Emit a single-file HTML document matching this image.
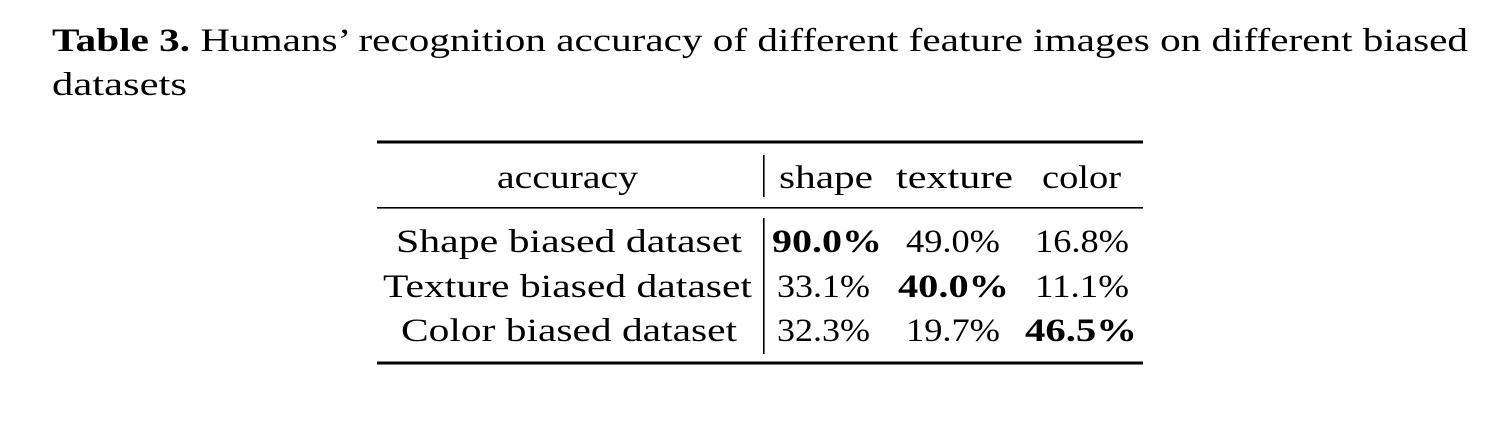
<!DOCTYPE html>
<html>
<head>
<meta charset="utf-8">
<style>
  html,body{margin:0;padding:0;background:#fff;}
  svg{display:block;}
  text{font-family:"Liberation Serif","DejaVu Serif",serif;fill:#000;}
  .b{font-weight:bold;}
</style>
</head>
<body>
<svg width="1486" height="428" viewBox="0 0 1486 428">
  <g>
    <text x="52" y="51" font-size="33" textLength="1416" lengthAdjust="spacingAndGlyphs"><tspan class="b">Table 3.</tspan> Humans’ recognition accuracy of different feature images on different biased</text>
    <text x="52" y="95" font-size="33" textLength="135" lengthAdjust="spacingAndGlyphs">datasets</text>
  </g>
  <g>
    <rect x="377" y="140.5" width="766" height="3" fill="#000"/>
    <rect x="377" y="207" width="766" height="1.6" fill="#000"/>
    <rect x="377" y="361.5" width="766" height="3" fill="#000"/>
    <rect x="763" y="155" width="1.6" height="42" fill="#000"/>
    <rect x="763" y="218" width="1.6" height="136" fill="#000"/>
  </g>
  <g font-size="33">
    <text x="497" y="188" textLength="141" lengthAdjust="spacingAndGlyphs">accuracy</text>
    <text x="779" y="188" textLength="94" lengthAdjust="spacingAndGlyphs">shape</text>
    <text x="896" y="188" textLength="117" lengthAdjust="spacingAndGlyphs">texture</text>
    <text x="1042" y="188" textLength="79" lengthAdjust="spacingAndGlyphs">color</text>
  </g>
  <g font-size="33">
    <text x="396" y="252" textLength="346" lengthAdjust="spacingAndGlyphs">Shape biased dataset</text>
    <text x="772" y="252" class="b" textLength="110" lengthAdjust="spacingAndGlyphs">90.0%</text>
    <text x="906" y="252" textLength="94" lengthAdjust="spacingAndGlyphs">49.0%</text>
    <text x="1035" y="252" textLength="94" lengthAdjust="spacingAndGlyphs">16.8%</text>
  </g>
  <g font-size="33">
    <text x="383" y="297" textLength="369" lengthAdjust="spacingAndGlyphs">Texture biased dataset</text>
    <text x="777" y="297" textLength="93" lengthAdjust="spacingAndGlyphs">33.1%</text>
    <text x="898" y="297" class="b" textLength="111" lengthAdjust="spacingAndGlyphs">40.0%</text>
    <text x="1035" y="297" textLength="94" lengthAdjust="spacingAndGlyphs">11.1%</text>
  </g>
  <g font-size="33">
    <text x="401" y="341" textLength="336" lengthAdjust="spacingAndGlyphs">Color biased dataset</text>
    <text x="777" y="341" textLength="93" lengthAdjust="spacingAndGlyphs">32.3%</text>
    <text x="906" y="341" textLength="94" lengthAdjust="spacingAndGlyphs">19.7%</text>
    <text x="1025" y="341" class="b" textLength="112" lengthAdjust="spacingAndGlyphs">46.5%</text>
  </g>
</svg>
</body>
</html>
